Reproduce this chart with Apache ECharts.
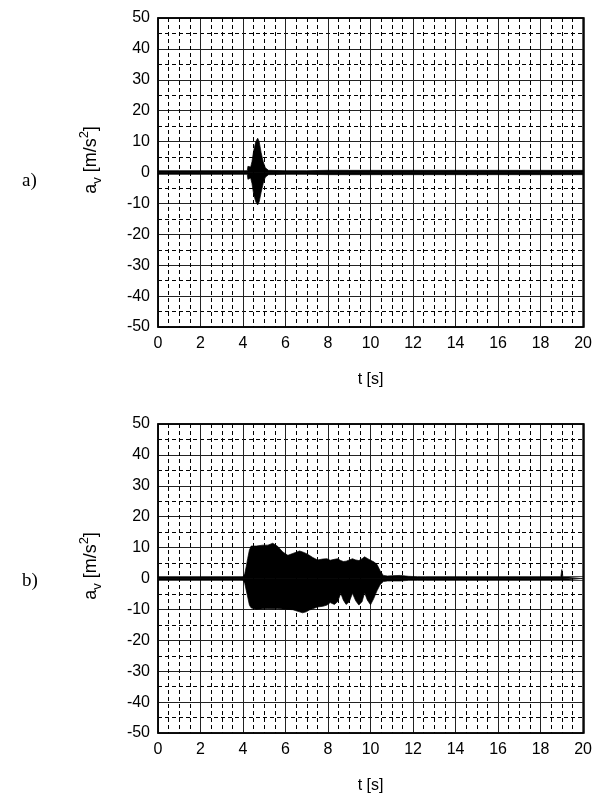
<!DOCTYPE html>
<html>
<head>
<meta charset="utf-8">
<script src="https://cdn.jsdelivr.net/npm/echarts@6/dist/echarts.min.js"></script>
<style>
html,body{margin:0;padding:0;background:#fff;}
#c{width:595px;height:796px;}
</style>
</head>
<body>
<div id="c"></div>
<script>
// ---- Data ----
var xTicks = [0, 2, 4, 6, 8, 10, 12, 14, 16, 18, 20];
var yTicks = [-50, -40, -30, -20, -10, 0, 10, 20, 30, 40, 50];
var panelLabels = ['a)', 'b)'];

// Panel a: envelope of a_v (upper / lower) vs time
var aTime  = [0, 1, 2, 3, 4, 4.2, 4.23, 4.3, 4.36, 4.42, 4.5, 4.6, 4.69, 4.76, 4.85, 4.95, 5.05, 5.2, 6, 7, 8, 9, 10, 11, 12, 13, 14, 15, 16, 17, 18, 19, 20];
var aUpper = [0.6, 0.6, 0.6, 0.6, 0.6, 0.6, 2.0, 2.2, 1.8, 3.5, 7.0, 10.0, 11.1, 10.0, 6.5, 3.5, 1.5, 0.7, 0.6, 0.6, 0.7, 0.7, 0.7, 0.7, 0.7, 0.7, 0.7, 0.7, 0.7, 0.7, 0.7, 0.7, 0.7];
var aLower = [-0.6, -0.6, -0.6, -0.6, -0.6, -0.6, -2.2, -2.4, -1.8, -3.5, -7.0, -9.5, -10.5, -9.5, -6.5, -3.5, -1.5, -0.7, -0.6, -0.6, -0.7, -0.7, -0.7, -0.7, -0.7, -0.7, -0.7, -0.7, -0.7, -0.7, -0.7, -0.7, -0.7];

// Panel b
var bTime  = [0, 2, 4.0, 4.08, 4.15, 4.22, 4.30, 4.38, 4.46, 4.62, 4.93, 5.17, 5.40, 5.63, 5.87, 6.11, 6.34, 6.66, 6.80, 6.97, 7.12, 7.28, 7.51, 7.75, 7.95, 8.10, 8.30, 8.45, 8.60, 8.72, 8.85, 9.00, 9.15, 9.30, 9.45, 9.60, 9.72, 9.85, 10.00, 10.15, 10.30, 10.45, 10.60, 10.80, 11.0, 11.4, 11.8, 12.2, 12.6, 14, 16, 18, 18.95, 19.0, 19.05, 20];
var bUpper = [0.6, 0.6, 0.6, 1.5, 3.8, 6.5, 9.2, 10.5, 11.1, 10.5, 10.8, 10.8, 11.4, 10.4, 8.6, 7.5, 8.1, 8.9, 8.6, 8.1, 7.5, 6.8, 6.0, 6.3, 6.4, 5.9, 6.2, 6.4, 5.8, 5.5, 5.6, 6.0, 6.4, 6.0, 5.8, 6.4, 7.0, 6.5, 5.9, 5.4, 4.6, 2.5, 1.0, 0.8, 0.9, 1.0, 0.7, 0.6, 0.6, 0.6, 0.6, 0.6, 0.6, 2.9, 0.6, 0.6];
var bLower = [-0.6, -0.6, -0.6, -1.5, -3.8, -6.0, -8.6, -9.5, -10, -10, -9.8, -9.7, -9.8, -9.7, -9.9, -10, -10.1, -10.8, -11.1, -10.8, -10.2, -9.8, -9.2, -9.0, -8.6, -7.8, -8.4, -7.5, -4.8, -7.0, -8.4, -7.5, -4.8, -7.2, -8.6, -7.5, -4.6, -7.0, -8.5, -6.5, -4.0, -2.0, -1.0, -0.8, -0.8, -0.8, -0.6, -0.6, -0.6, -0.6, -0.6, -0.6, -0.6, -0.6, -0.6, -0.6];

// ---- Build options ----
function pairs(t, v) { return t.map(function (x, i) { return [x, v[i]]; }); }

var FONT = 'Liberation Sans, Arial, Helvetica, sans-serif';
var grids = [
  { left: 158, top: 18, width: 426, height: 309 },
  { left: 158, top: 424, width: 426, height: 309 }
];

function xAxisFor(i) {
  return {
    type: 'value', gridIndex: i, min: xTicks[0], max: xTicks[xTicks.length - 1], interval: xTicks[1] - xTicks[0],
    name: 't [s]', nameLocation: 'middle', nameGap: 45,
    nameTextStyle: { fontFamily: FONT, fontSize: 16, color: '#000' },
    axisLine: { show: false },
    axisTick: { show: false },
    axisLabel: { fontFamily: FONT, fontSize: 16, color: '#000', margin: 9 },
    splitLine: { show: true, lineStyle: { color: '#222', width: 1, type: 'solid' } },
    minorTick: { show: true, splitNumber: 4, length: 0 },
    minorSplitLine: { show: true, lineStyle: { color: '#000', width: 1, type: [4, 3] } }
  };
}
function yAxisFor(i) {
  return {
    type: 'value', gridIndex: i, min: yTicks[0], max: yTicks[yTicks.length - 1], interval: yTicks[1] - yTicks[0],
    axisLine: { show: false },
    axisTick: { show: false },
    axisLabel: { fontFamily: FONT, fontSize: 16, color: '#000', margin: 8 },
    splitLine: { show: true, lineStyle: { color: '#222', width: 1, type: 'solid' } },
    minorTick: { show: true, splitNumber: 2, length: 0 },
    minorSplitLine: { show: true, lineStyle: { color: '#000', width: 1, type: [4, 3] } }
  };
}
function envSeries(i, t, v) {
  return {
    type: 'line', xAxisIndex: i, yAxisIndex: i, data: pairs(t, v),
    showSymbol: false, symbol: 'none', smooth: false, silent: true, clip: true,
    lineStyle: { color: '#000', width: 0.7 },
    areaStyle: { color: '#000', opacity: 1 },
    z: 5
  };
}

var titleRich = {
  m: { fontFamily: FONT, fontSize: 18, color: '#000', lineHeight: 26, verticalAlign: 'middle' },
  sub: { fontFamily: FONT, fontSize: 13, color: '#000', lineHeight: 13, verticalAlign: 'bottom' },
  sup: { fontFamily: FONT, fontSize: 13, color: '#000', lineHeight: 13, verticalAlign: 'top' }
};

function yTitle(cy) {
  return {
    type: 'text', x: 91, y: cy, rotation: Math.PI / 2,
    style: {
      text: '{m|a}{sub|v}{m| [m/s}{sup|2}{m|]}', rich: titleRich,
      align: 'center', verticalAlign: 'middle'
    }
  };
}
function panelLabel(txt, cy) {
  return {
    type: 'text', x: 22, y: cy,
    style: { text: txt, fontFamily: 'Liberation Serif, Times New Roman, serif', fontSize: 19, fill: '#000', align: 'left', verticalAlign: 'middle' }
  };
}

var option = {
  backgroundColor: '#fff',
  animation: false,
  grid: grids.map(function (g) {
    return Object.assign({ show: true, borderColor: '#000', borderWidth: 1.5, backgroundColor: 'transparent', containLabel: false }, g);
  }),
  xAxis: [xAxisFor(0), xAxisFor(1)],
  yAxis: [yAxisFor(0), yAxisFor(1)],
  series: [
    envSeries(0, aTime, aUpper), envSeries(0, aTime, aLower),
    envSeries(1, bTime, bUpper), envSeries(1, bTime, bLower)
  ],
  graphic: [
    yTitle(160), yTitle(566),
    panelLabel(panelLabels[0], 181), panelLabel(panelLabels[1], 581),
    { type: 'rect', shape: { x: 158, y: 18, width: 426, height: 309 }, style: { fill: null, stroke: '#000', lineWidth: 1.5 }, z: 100, silent: true },
    { type: 'rect', shape: { x: 158, y: 424, width: 426, height: 309 }, style: { fill: null, stroke: '#000', lineWidth: 1.5 }, z: 100, silent: true }
  ]
};

var chart = echarts.init(document.getElementById('c'), null, { renderer: 'canvas' });
chart.setOption(option);
</script>
</body>
</html>
